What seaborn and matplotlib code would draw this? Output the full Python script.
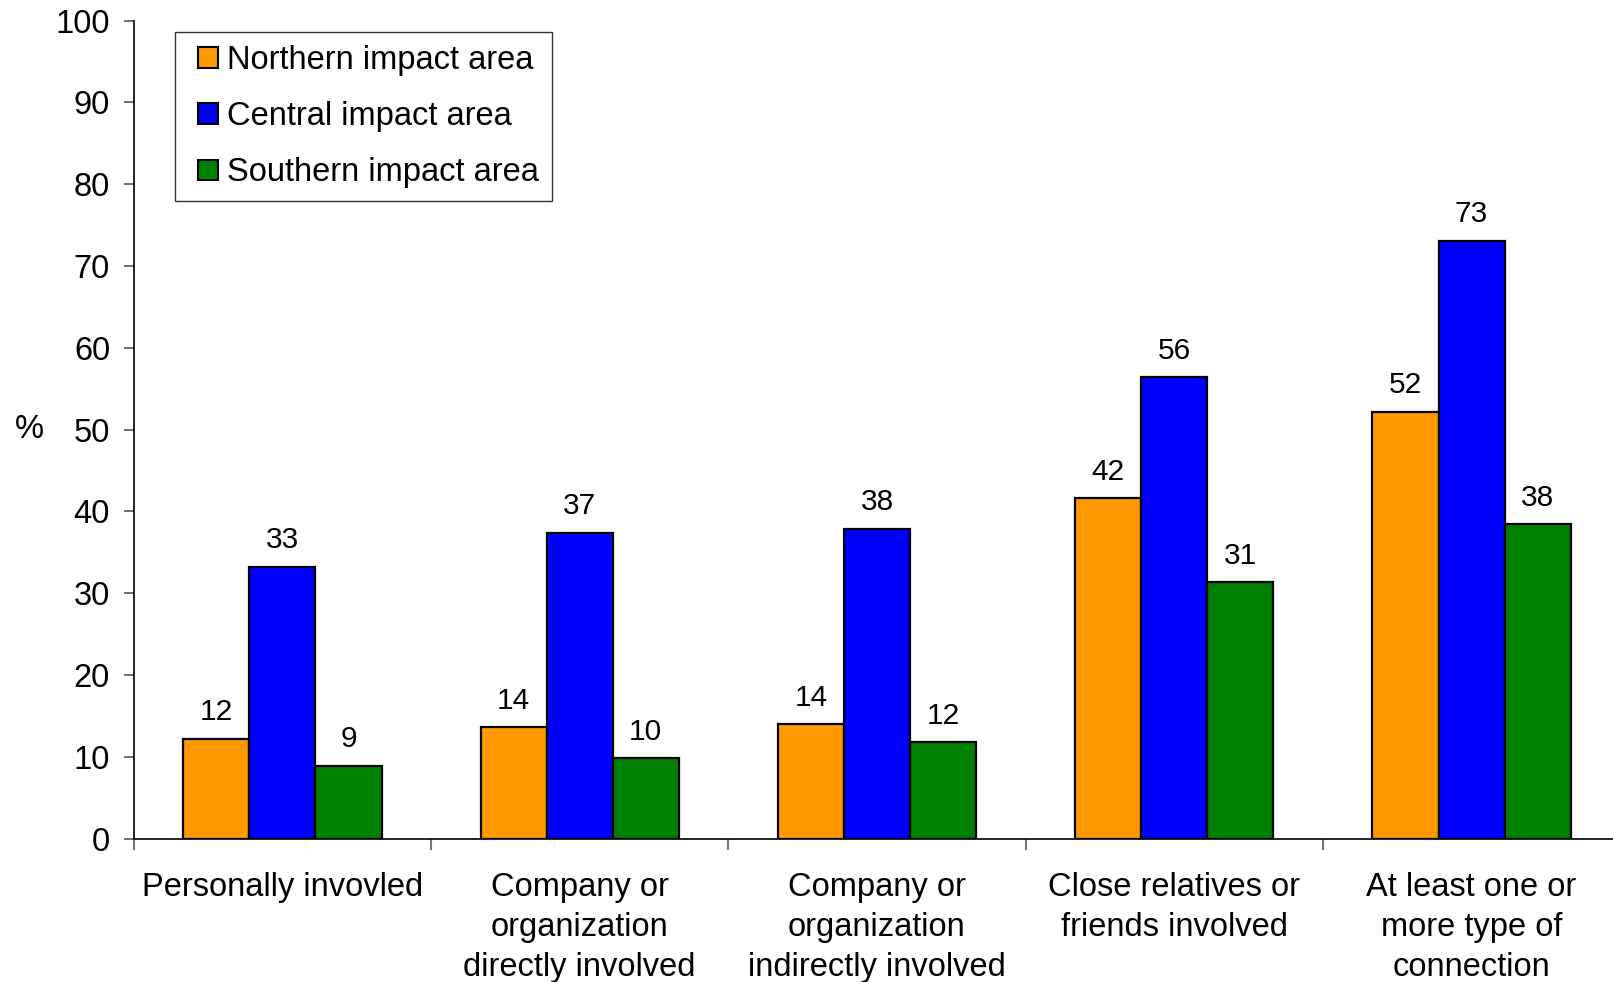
import matplotlib
matplotlib.use("Agg")
import matplotlib.pyplot as plt
import matplotlib.patches as mpatches
from matplotlib.legend_handler import HandlerPatch
import seaborn as sns
import pandas as pd
import numpy as np

categories = [
    "Personally invovled",
    "Company or\norganization\ndirectly involved",
    "Company or\norganization\nindirectly involved",
    "Close relatives or\nfriends involved",
    "At least one or\nmore type of\nconnection",
]
areas = ["Northern impact area", "Central impact area", "Southern impact area"]
northern = [12.2, 13.6, 14.0, 41.6, 52.2]
central = [33.2, 37.4, 37.9, 56.4, 73.1]
southern = [8.9, 9.8, 11.8, 31.3, 38.4]
colors = ["#FF9900", "#0000FF", "#008000"]
y_ticks = [0, 10, 20, 30, 40, 50, 60, 70, 80, 90, 100]

sns.set_theme(style="white")
plt.rcParams["font.family"] = ["Liberation Sans", "DejaVu Sans"]
plt.rcParams["text.color"] = "black"
plt.rcParams["axes.labelcolor"] = "black"
plt.rcParams["xtick.labelcolor"] = "black"
plt.rcParams["ytick.labelcolor"] = "black"

df = pd.DataFrame({
    "category": categories * 3,
    "area": [areas[0]] * 5 + [areas[1]] * 5 + [areas[2]] * 5,
    "value": northern + central + southern,
})

fig = plt.figure(figsize=(16.13, 9.82), dpi=100)
ax = fig.add_axes([0.0829, 0.1461, 0.9216, 0.833])

sns.barplot(data=df, x="category", y="value", hue="area", order=categories,
            hue_order=areas, palette=colors, width=0.667, gap=0,
            edgecolor="black", linewidth=1.6, saturation=1, errorbar=None, ax=ax)

for container in ax.containers:
    ax.bar_label(container, fmt="%.0f", padding=9, fontsize=21.5, color="black")

ax.set_xlim(-0.5, 4.5)
ax.set_ylim(0, 100)
ax.set_yticks(y_ticks)
ax.tick_params(axis="y", labelsize=23.5, length=7, width=1.2, color="#555555",
               direction="out", pad=10, left=True)
ax.set_xticks(range(len(categories)))
ax.set_xticklabels(categories, fontsize=23.5, linespacing=1.38, va="top")
ax.tick_params(axis="x", which="major", length=0, pad=24, bottom=False)
ax.set_xticks(np.arange(-0.5, 5.0, 1.0), minor=True)
ax.tick_params(axis="x", which="minor", length=8, width=1.5, color="#777777",
               direction="out", bottom=True)

ax.set_xlabel("")
ax.set_ylabel("%", fontsize=23.5, rotation=0, va="center", ha="center")
ax.yaxis.set_label_coords(-0.0705, 0.5)

for side in ["top", "right"]:
    ax.spines[side].set_visible(False)
for side in ["left", "bottom"]:
    ax.spines[side].set_color("black")
    ax.spines[side].set_linewidth(1.2)


def square_key(legend, orig_handle, xdescent, ydescent, width, height, fontsize):
    # square swatch aligned to the right end of the handle box
    side = 0.63 * fontsize
    return mpatches.Rectangle((width - side - xdescent, (height - side) / 2 - ydescent),
                              side, side)


handles, labels = ax.get_legend_handles_labels()
leg = ax.legend(handles, labels, loc="upper left", bbox_to_anchor=(0.0278, 0.986),
                borderaxespad=0, fontsize=23.5, frameon=True, fancybox=False,
                edgecolor="black", handlelength=0.93, handleheight=0.63,
                handletextpad=0.25, labelspacing=0.77, borderpad=0.4,
                handler_map={mpatches.Rectangle: HandlerPatch(patch_func=square_key)})
leg.get_frame().set_linewidth(1.0)
for h in leg.legend_handles:
    h.set_edgecolor("black")
    h.set_linewidth(1.5)

fig.savefig("out.png", dpi=100)
